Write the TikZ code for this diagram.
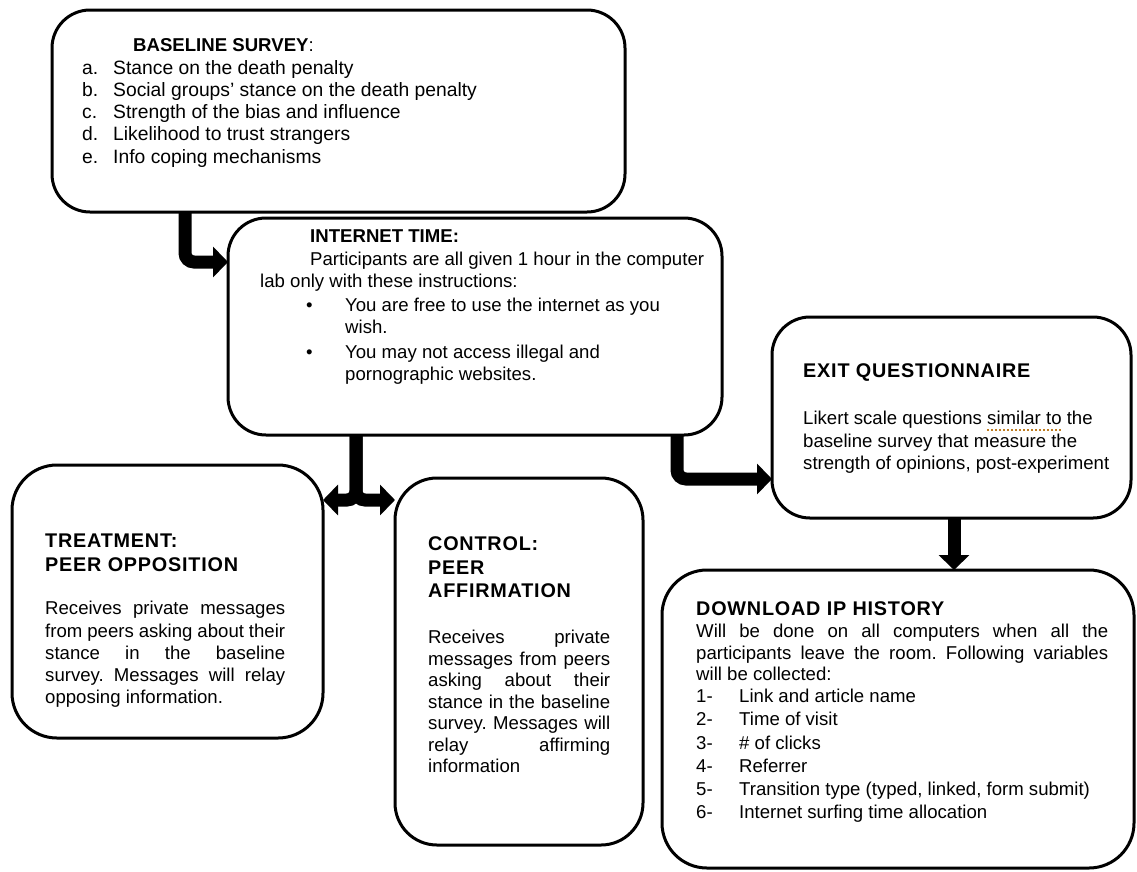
\documentclass[tikz,border=0pt]{standalone}
\usepackage{fontspec}
\setmainfont{Liberation Sans}
\newfontfamily\headfam[LetterSpace=4.0]{Liberation Sans}
\usetikzlibrary{arrows.meta}
\frenchspacing
\newcommand\bodyfont{\fontsize{18.6}{22.3}\selectfont}
\newcommand\headfont{\headfam\bfseries\fontsize{19.8}{23.5}\selectfont}
\newcommand\Jline[2]{\makebox[#1][s]{#2}}
\definecolor{spell}{RGB}{190,125,35}
\begin{document}
\begin{tikzpicture}[x=1pt,y=-1pt,
  box/.style={draw=black, line width=3pt, rounded corners=#1, inner sep=0pt, outer sep=0pt},
  box/.default=38pt,
  flow/.style={draw=black, line width=13pt, rounded corners=9pt,
    -{Triangle[length=15pt,width=30pt]}},
  txt/.style={anchor=north west, inner sep=0pt, align=left, font=\bodyfont},
  head/.style={anchor=north west, inner sep=0pt, align=left, font=\headfont},
  spellmark/.style={draw=spell, line width=2pt, dash pattern=on 2pt off 2pt}]
\useasboundingbox (0,0) rectangle (1137,871);
% boxes
\node[box, minimum width=573pt, minimum height=202pt] (base) at (338.5,111) {};
\node[box, minimum width=494pt, minimum height=217pt] (int) at (475,326.5) {};
\node[box=45pt, minimum width=311pt, minimum height=273pt] (treat) at (167.5,601.5) {};
\node[box=42pt, minimum width=248pt, minimum height=367pt] (ctrl) at (519,661.5) {};
\node[box, minimum width=359pt, minimum height=201pt] (exit) at (951.5,417.5) {};
\node[box=45pt, minimum width=472pt, minimum height=298pt] (dl) at (898,719) {};
% connectors
\draw[flow] ([xshift=133pt]base.south west) |- ([yshift=-44pt]int.north west);
\draw[flow] ([xshift=128pt]int.south west) |- ([yshift=-35pt]treat.north east);
\draw[flow] ([xshift=128pt]int.south west) |- ([yshift=-22pt]ctrl.north west);
\draw[flow] ([xshift=-45pt]int.south east) |- ([yshift=-162pt]exit.north west);
\draw[flow] ([xshift=182pt]exit.south west) -- ([xshift=292pt]dl.north west);
% baseline survey
\node[txt] (baseH) at (133,35.9) {\strut\textbf{BASELINE SURVEY}:};
\node[txt, font=\fontsize{19.3}{22.3}\selectfont] (baseL) at (82,58.2) {\strut\makebox[31pt][l]{a.}Stance on the death penalty\\
  \makebox[31pt][l]{b.}Social groups’ stance on the death penalty\\
  \makebox[31pt][l]{c.}Strength of the bias and influence\\
  \makebox[31pt][l]{d.}Likelihood to trust strangers\\
  \makebox[31pt][l]{e.}Info coping mechanisms};
% internet time
\node[txt] (intT) at (260,226.9) {\strut\hspace*{50pt}\textbf{INTERNET TIME:}\\
  \hspace*{50pt}Participants are all given 1 hour in the computer\\
  lab only with these instructions:};
\node[txt] (intB) at (306,295.4) {\strut\makebox[39pt][l]{•}You are free to use the internet as you\\
  \hspace*{39pt}wish.\\[2.7pt]
  \makebox[39pt][l]{•}You may not access illegal and\\
  \hspace*{39pt}pornographic websites.};
% treatment
\node[head] (trH) at (45,530.9) {\strut TREATMENT:\\PEER OPPOSITION};
\node[txt] (trP) at (45,598.9) {\strut\Jline{240pt}{Receives private messages}\\
  \Jline{240pt}{from peers asking about their}\\
  \Jline{240pt}{stance in the baseline}\\
  \Jline{240pt}{survey. Messages will relay}\\
  opposing information.};
% control
\node[head] (ctH) at (428,533.9) {\strut CONTROL:\\PEER\\AFFIRMATION};
\node[txt, font=\fontsize{18.6}{21.5}\selectfont] (ctP) at (428,628.4) {\strut\Jline{182pt}{Receives private}\\
  \Jline{182pt}{messages from peers}\\
  \Jline{182pt}{asking about their}\\
  \Jline{182pt}{stance in the baseline}\\
  \Jline{182pt}{survey. Messages will}\\
  \Jline{182pt}{relay affirming}\\
  information};
% exit questionnaire
\node[head] (exH) at (803,360.9) {\strut EXIT QUESTIONNAIRE};
\node[txt, font=\fontsize{18.6}{22.5}\selectfont] (exP) at (803,408.7) {\strut Likert scale questions similar to the\\
  baseline survey that measure the\\
  strength of opinions, post-experiment};
\draw[spellmark] (987,430) -- (1062,430);
% download ip history
\node[head] (dlH) at (696,598.9) {\strut DOWNLOAD IP HISTORY};
\node[txt, font=\fontsize{18.6}{21.5}\selectfont] (dlP) at (696,622.4) {\strut\Jline{412pt}{Will be done on all computers when all the}\\
  \Jline{412pt}{participants leave the room. Following variables}\\
  will be collected:};
\node[txt, font=\fontsize{18.6}{23.2}\selectfont] (dlL) at (696,686.3) {\strut\makebox[43pt][l]{1-}Link and article name\\
  \makebox[43pt][l]{2-}Time of visit\\
  \makebox[43pt][l]{3-}\# of clicks\\
  \makebox[43pt][l]{4-}Referrer\\
  \makebox[43pt][l]{5-}Transition type (typed, linked, form submit)\\
  \makebox[43pt][l]{6-}Internet surfing time allocation};
\end{tikzpicture}
\end{document}
